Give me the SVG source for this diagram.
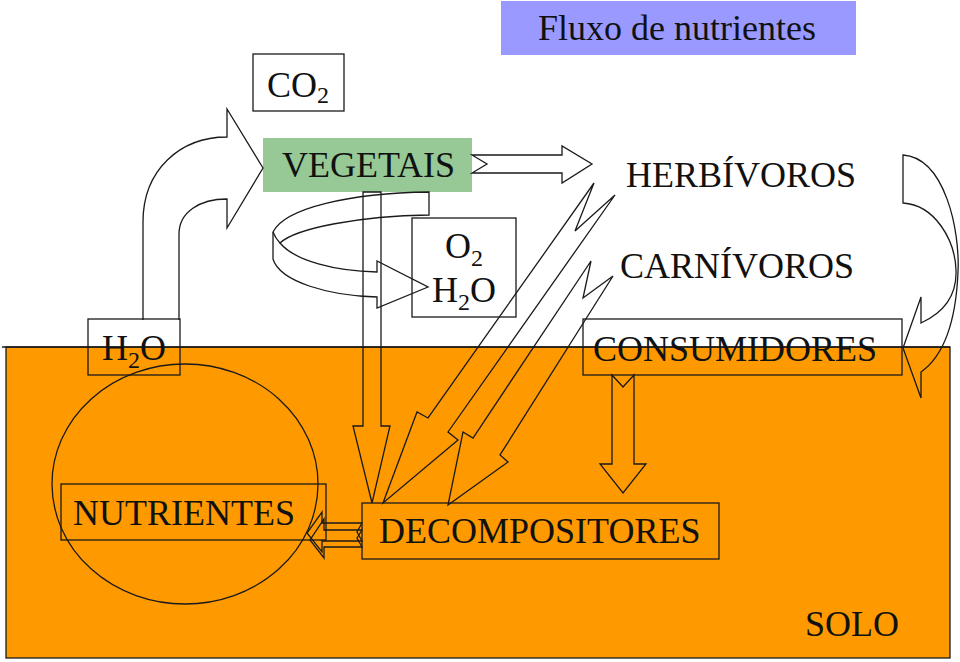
<svg xmlns="http://www.w3.org/2000/svg" width="960" height="662" viewBox="0 0 960 662">
<style>
  text { font-family: "Liberation Serif", "Times New Roman", serif; font-size: 36px; fill: #111; }
  .sub { font-size: 24px; }
  .box { fill: none; stroke: #1a1a1a; stroke-width: 1.3; }
  .arr { fill: none; stroke: #1a1a1a; stroke-width: 1.3; stroke-linejoin: miter; }
</style>
<rect width="960" height="662" fill="#ffffff"/>
<g id="solo">
  <rect x="6" y="347" width="944" height="311" fill="#ff9900" stroke="#1a1a1a" stroke-width="1.3"/>
  <line x1="2" y1="347" x2="950" y2="347" stroke="#1a1a1a" stroke-width="1.3"/>
  <text x="805" y="636">SOLO</text>
</g>
<g id="titulo">
  <rect x="501" y="1" width="355" height="54" fill="#9999ff"/>
  <text x="538" y="40">Fluxo de nutrientes</text>
</g>
<g id="co2">
  <rect class="box" x="253" y="54" width="91" height="57"/>
  <text x="267" y="97">CO<tspan class="sub" dy="6">2</tspan></text>
</g>
<g id="vegetais">
  <rect x="263" y="138" width="209" height="54" fill="#96c996"/>
  <text x="282" y="177">VEGETAIS</text>
</g>
<g id="o2h2o">
  <rect class="box" x="412" y="218" width="104" height="99"/>
  <text x="445" y="258">O<tspan class="sub" dy="8">2</tspan></text>
  <text x="432" y="302">H<tspan class="sub" dy="8">2</tspan><tspan dy="-8">O</tspan></text>
</g>
<g id="herbivoros">
  <text x="626" y="187">HERBÍVOROS</text>
</g>
<g id="carnivoros">
  <text x="620" y="278">CARNÍVOROS</text>
</g>
<g id="consumidores">
  <rect class="box" x="583" y="319" width="319" height="56"/>
  <text x="593" y="361">CONSUMIDORES</text>
</g>
<g id="h2o">
  <rect class="box" x="88" y="319" width="92" height="56"/>
  <text x="102" y="360">H<tspan class="sub" dy="8">2</tspan><tspan dy="-8">O</tspan></text>
</g>
<g id="nutrientes">
  <ellipse class="box" cx="185" cy="484" rx="133" ry="120"/>
  <rect class="box" x="61" y="484" width="265" height="56"/>
  <text x="73" y="525">NUTRIENTES</text>
</g>
<g id="decompositores">
  <rect class="box" x="362" y="503" width="357" height="56"/>
  <text x="379" y="543">DECOMPOSITORES</text>
</g>
<g id="connectors">
  <!-- H2O -> VEGETAIS curved arrow -->
  <path class="arr" d="M143,320 L143,222 C143,170 180,137 227,137 L227,109 L263,168 L227,228 L227,199 C200,199 179,212 179,234 L179,320"/>
  <!-- VEGETAIS -> HERBIVOROS -->
  <path class="arr" d="M472,155 L562,155 L562,146 L592,164 L562,183 L562,173 L472,173 L487,164 Z"/>
  <!-- respiration curved arrow VEGETAIS -> O2/H2O -->
  <path class="arr" d="M429,192 L429,215 C360,216 296,228 280,243 C295,261 335,271 377,272 L377,261 L428,287 L377,308 L377,297 C330,296 280,282 273,259 L273,232 C285,208 350,193 429,192 Z"/>
  <path class="arr" d="M273,232 C275,237 277,240 280,243"/>
  <!-- VEGETAIS -> DECOMPOSITORES -->
  <path class="arr" d="M363,192 L363,426 L353,426 L372,503 L390,426 L381,426 L381,192 Z"/>
  <!-- HERBIVOROS -> DECOMPOSITORES bolt -->
  <path class="arr" d="M594,183 L575,231 L615,195 L448,432 L458,440 L383,503 L417,412 L428,418 Z"/>
  <!-- CARNIVOROS -> DECOMPOSITORES bolt -->
  <path class="arr" d="M591,261 L583,298 L613,276 L500,455 L508,462 L448,505 L463,432 L473,438 Z"/>
  <!-- CONSUMIDORES -> DECOMPOSITORES -->
  <path class="arr" d="M612,375 L612,464 L600,464 L623,493 L646,464 L634,464 L634,375 L623,387 Z"/>
  <!-- HERBIVOROS/CARNIVOROS -> CONSUMIDORES curved arrow -->
  <path class="arr" d="M903,155 L903,203 C935,205 955,240 956,270 C957,295 945,312 921,323 L921,297 L903,348 L921,398 L921,372 C945,355 956,320 958,272 C960,230 945,158 903,155 Z"/>
  <!-- DECOMPOSITORES -> NUTRIENTES arrows -->
  <path class="arr" d="M362,523 L322,523 L322,512 L307,533 L322,552 L322,541 L362,541 L357,532 Z"/>
  <path class="arr" d="M362,530 L324,530 L324,519 L310,540 L324,558 L324,547 L362,547 L357,538 Z"/>
</g>
</svg>
